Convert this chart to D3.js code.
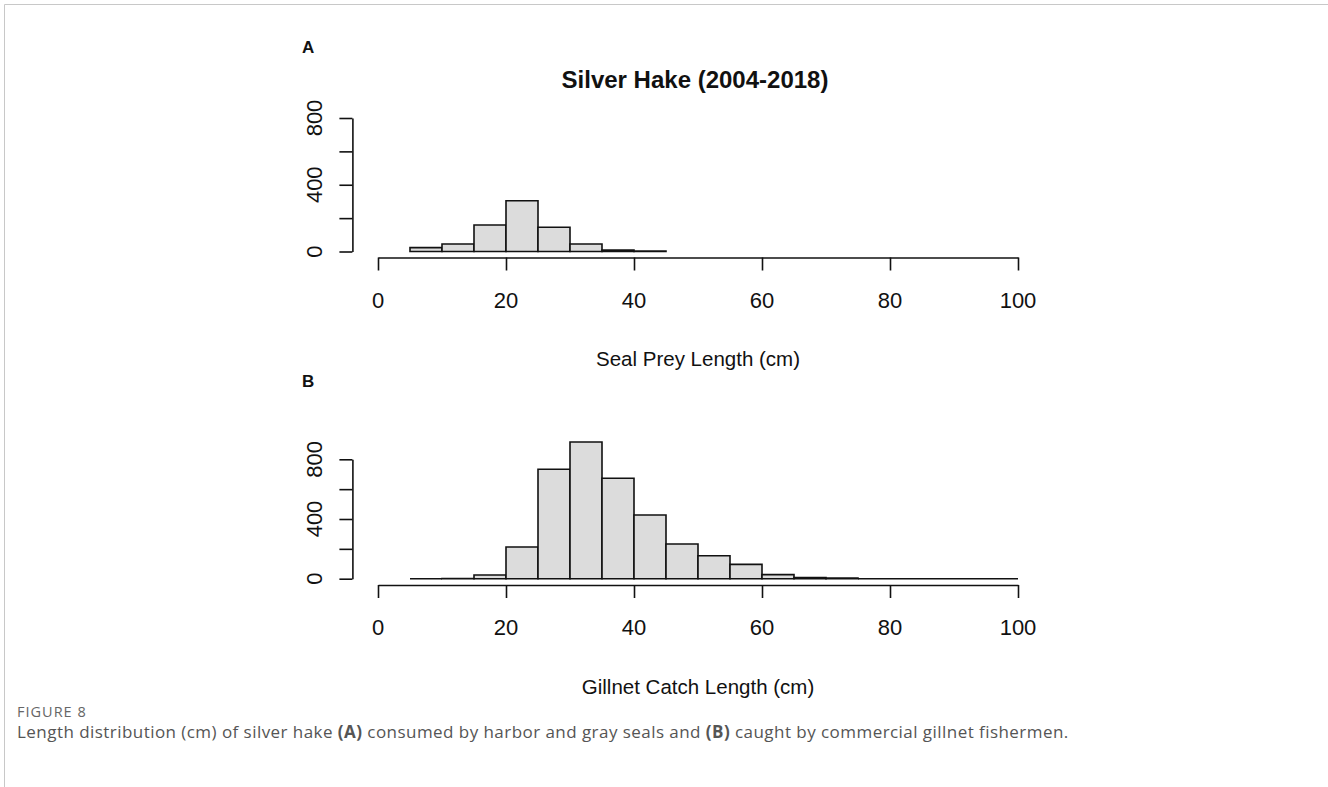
<!DOCTYPE html>
<html>
<head>
<meta charset="utf-8">
<script src="https://cdn.jsdelivr.net/npm/d3@7"></script>
<style>
  html, body { margin: 0; padding: 0; background: #fff; }
  svg { display: block; }
</style>
</head>
<body>
<svg id="chart" width="1328" height="787"></svg>
<script>
// ---- Data ----
const binEdgesA = [5, 10, 15, 20, 25, 30, 35, 40, 45];
const countsA   = [23, 45, 159, 304, 145, 45, 8, 2];

const binEdgesB = [5, 10, 15, 20, 25, 30, 35, 40, 45, 50, 55, 60, 65, 70, 75, 80, 85, 90, 95, 100];
const countsB   = [0, 1, 25, 212, 733, 916, 673, 427, 232, 154, 96, 27, 7, 5, 0, 0, 0, 0, 0];

const xTicks = [0, 20, 40, 60, 80, 100];
const yTicks = [0, 200, 400, 600, 800];
const yTickLabels = [0, 400, 800];

const mainTitle = "Silver Hake (2004-2018)";
const xLabelA = "Seal Prey Length (cm)";
const xLabelB = "Gillnet Catch Length (cm)";

const svg = d3.select("#chart");
const FONT = "'Liberation Sans', Arial, sans-serif";

// frame (left and top edges)
svg.append("path")
  .attr("d", "M4.5,800V4.5H1340")
  .attr("fill", "none").attr("stroke", "#c8c8c8").attr("stroke-width", 1);

function panel(edges, counts, yRange, xAxisY, xLabel, xLabelY, tickLabelY) {
  const x = d3.scaleLinear().domain([0, 100]).range([378, 1018]);
  const y = d3.scaleLinear().domain([0, 800]).range(yRange);
  const g = svg.append("g");

  const bins = counts.map((c, i) => ({ x0: edges[i], x1: edges[i + 1], c }));
  g.selectAll("path.bar").data(bins).enter().append("path")
    .attr("class", "bar")
    .attr("d", d => `M${x(d.x0)},${y(0)}V${y(d.c)}H${x(d.x1)}V${y(0)}Z`)
    .attr("fill", "#dcdcdc")
    .attr("stroke", "#111")
    .attr("stroke-width", 1.6);

  // x axis
  const xa = g.append("g").attr("transform", `translate(0,${xAxisY})`)
    .call(d3.axisBottom(x).tickValues(xTicks).tickSize(13).tickSizeOuter(0).tickFormat(() => ""));
  xa.select(".domain").attr("stroke", "#111").attr("stroke-width", 1.6);
  xa.selectAll(".tick line").attr("stroke", "#111").attr("stroke-width", 1.6);
  g.selectAll("text.xt").data(xTicks).enter().append("text")
    .attr("x", d => x(d)).attr("y", tickLabelY)
    .attr("text-anchor", "middle")
    .attr("font-family", FONT).attr("font-size", 22).attr("fill", "#111")
    .text(d => d);

  // y axis
  const yAxisX = x(-4);
  const ya = g.append("g").attr("transform", `translate(${yAxisX},0)`)
    .call(d3.axisLeft(y).tickValues(yTicks).tickSize(13).tickSizeOuter(0).tickFormat(() => ""));
  ya.select(".domain").attr("stroke", "#111").attr("stroke-width", 1.6);
  ya.selectAll(".tick line").attr("stroke", "#111").attr("stroke-width", 1.6);
  g.selectAll("text.yt").data(yTickLabels).enter().append("text")
    .attr("transform", d => `translate(${yAxisX - 30},${y(d)}) rotate(-90)`)
    .attr("text-anchor", "middle")
    .attr("font-family", FONT).attr("font-size", 22).attr("fill", "#111")
    .text(d => d);

  g.append("text")
    .attr("x", x(50)).attr("y", xLabelY)
    .attr("text-anchor", "middle")
    .attr("font-family", FONT).attr("font-size", 20.5).attr("fill", "#111")
    .text(xLabel);
}

panel(binEdgesA, countsA, [251.5, 118], 257.5, xLabelA, 366, 308);
panel(binEdgesB, countsB, [578.7, 459.3], 585, xLabelB, 694, 635);

// main title
svg.append("text")
  .attr("x", 695).attr("y", 88)
  .attr("text-anchor", "middle")
  .attr("font-family", FONT).attr("font-weight", "bold").attr("font-size", 24).attr("fill", "#111")
  .text(mainTitle);

// panel letters
svg.append("text").attr("x", 302).attr("y", 53)
  .attr("font-family", FONT).attr("font-weight", "bold").attr("font-size", 17).attr("fill", "#111").text("A");
svg.append("text").attr("x", 302).attr("y", 387)
  .attr("font-family", FONT).attr("font-weight", "bold").attr("font-size", 17).attr("fill", "#111").text("B");

// caption
svg.append("text").attr("x", 17).attr("y", 717)
  .attr("font-family", "'Open Sans', sans-serif").attr("font-size", 14.5)
  .attr("letter-spacing", 1.0).attr("fill", "#666")
  .text("FIGURE 8");
const cap = svg.append("text").attr("x", 17).attr("y", 738)
  .attr("font-family", "'Open Sans', sans-serif").attr("font-size", 17)
  .attr("letter-spacing", 0.45).attr("fill", "#555");
cap.append("tspan").text("Length distribution (cm) of silver hake ");
cap.append("tspan").attr("font-weight", "bold").text("(A)");
cap.append("tspan").text(" consumed by harbor and gray seals and ");
cap.append("tspan").attr("font-weight", "bold").text("(B)");
cap.append("tspan").text(" caught by commercial gillnet fishermen.");
</script>
</body>
</html>
